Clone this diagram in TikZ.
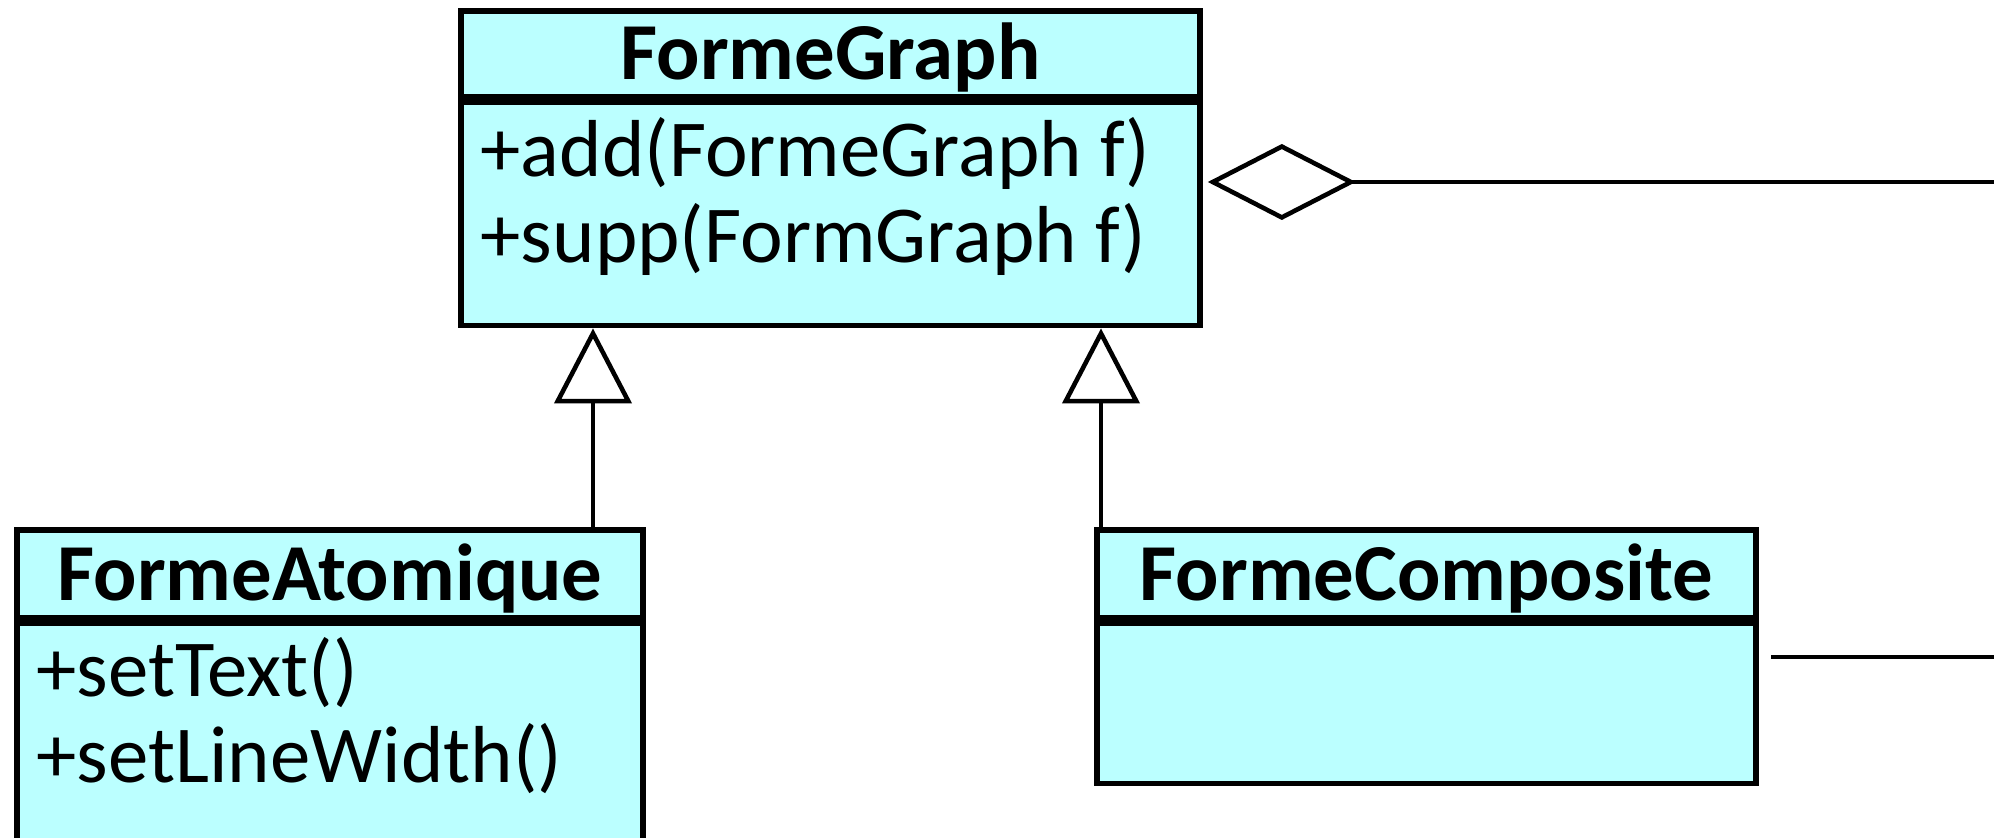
\documentclass[tikz,border=0pt]{standalone}
\usepackage{fontspec}
\setmainfont{Carlito}
\usetikzlibrary{positioning,arrows.meta}
\definecolor{classfill}{RGB}{187,255,255}
\begin{document}
\begin{tikzpicture}[
				classhead/.style={rectangle, draw, fill=classfill, line width=1.6pt, inner sep=0,
					font=\fontsize{23}{24.5}\selectfont\bfseries, text height=14.8pt, text depth=0pt},
				classbody/.style={rectangle, draw, fill=classfill, line width=1.6pt, inner sep=0},
				method/.style={anchor=base west, inner sep=0, font=\fontsize{23}{24.5}\selectfont},
				inherit/.style={line width=1.3pt, -{Triangle[open, length=0.75cm, width=0.77cm]}},
				aggreg/.style={line width=1.3pt, -{Diamond[open, length=1.48cm, width=0.76cm]}, shorten >=0.05cm},
			]
			\useasboundingbox (0,0) rectangle (19.94,-8.38);
			\clip (0,0) rectangle (19.94,-8.38);
			\node[classhead, minimum width=7.39cm, minimum height=0.86cm] (graph-head) at (8.305,-0.54) {FormeGraph};
			\node[classbody, minimum width=7.39cm, minimum height=2.23cm, below=0pt of graph-head] (graph-body) {};
				\node[method] (graph-add) at (4.80,-1.77) {+add(FormeGraph f)};
				\node[method] (graph-supp) at (4.80,-2.63) {+supp(FormGraph f)};
			\node[classhead, minimum width=6.26cm, minimum height=0.88cm] (atom-head) at (3.30,-5.74) {FormeAtomique};
			\node[classbody, minimum width=6.26cm, minimum height=3.00cm, below=0pt of atom-head] (atom-body) {};
				\node[method] (atom-text) at (0.36,-6.97) {+setText()};
				\node[method] (atom-width) at (0.36,-7.83) {+setLineWidth()};
			\node[classhead, minimum width=6.59cm, minimum height=0.88cm] (comp-head) at (14.265,-5.74) {FormeComposite};
			\node[classbody, minimum width=6.59cm, minimum height=1.60cm, below=0pt of comp-head] (comp-body) {};
			\coordinate (atom-link) at (5.93,-5.30);
			\coordinate (comp-link) at (11.01,-5.30);
			\coordinate (agg-end) at (19.94,-1.82);
			\coordinate (comp-end) at (19.94,-6.57);
			\draw[inherit] (atom-link) -- (atom-link |- graph-body.south);
			\draw[inherit] (comp-link) -- (comp-link |- graph-body.south);
			\draw[aggreg] (agg-end) -- (agg-end -| graph-body.east);
			\draw[line width=1.3pt, shorten >=0.12cm] (comp-end) -- (comp-end -| comp-body.east);
			\end{tikzpicture}
\end{document}
